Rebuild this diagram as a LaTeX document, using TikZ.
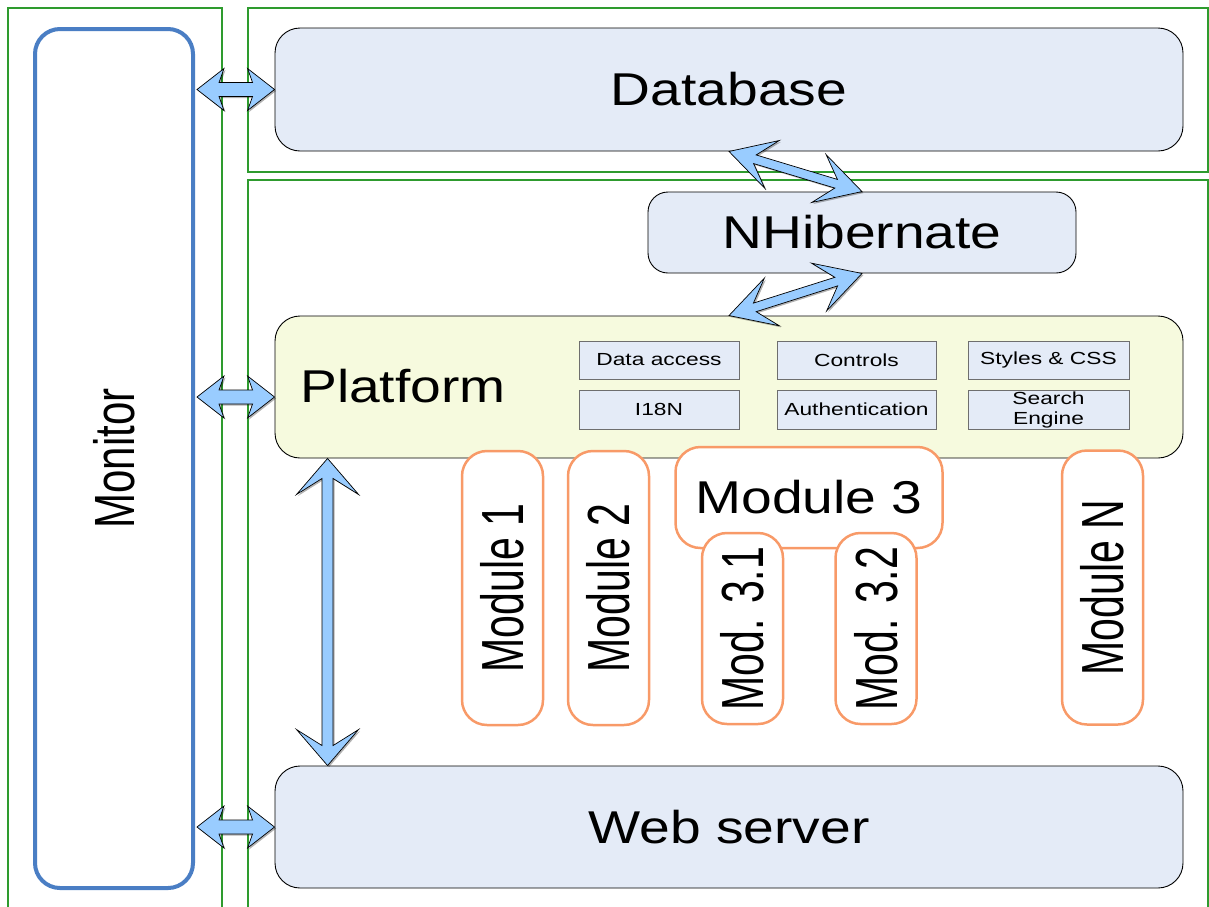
\documentclass[tikz,border=0pt]{standalone}
\usepackage{fontspec}
\setmainfont{Liberation Sans}
\usepackage{graphicx}
\usetikzlibrary{calc}

\definecolor{boxblue}{RGB}{228,235,247}
\definecolor{platfill}{RGB}{246,250,222}
\definecolor{arrowfill}{RGB}{153,204,255}
\definecolor{monblue}{RGB}{74,126,196}
\definecolor{framegreen}{RGB}{46,155,46}
\definecolor{modorange}{RGB}{248,154,104}
\definecolor{smallborder}{RGB}{110,110,110}

% horizontally widened text, and upright (rotated) text
\newcommand\wide[1]{\scalebox{1.2}[1]{#1}}
\newcommand\widesmall[1]{\scalebox{1.3}[1]{#1}}
\newcommand\uptext[2][1.45]{\rotatebox{90}{\scalebox{1}[#1]{#2}}}

% double-headed block arrow between two named coordinates
% #1 start, #2 end, #3 wing setback, #4 neck setback, #5 head half width, #6 shaft half width
\newcommand\barrow[6]{%
  \pgfpointanchor{#1}{center}\pgfgetlastxy{\bax}{\bay}%
  \pgfpointanchor{#2}{center}\pgfgetlastxy{\bbx}{\bby}%
  \pgfmathsetmacro\baang{atan2((\bby)-(\bay),(\bbx)-(\bax))}%
  \pgfmathsetmacro\balen{veclen((\bbx)-(\bax),(\bby)-(\bay))}%
  \def\bapoly{(0,0) -- (#3,#5) -- (#4,#6) -- (\balen-#4,#6) -- (\balen-#3,#5)
    -- (\balen,0) -- (\balen-#3,-#5) -- (\balen-#4,-#6) -- (#4,-#6) -- (#3,-#5) -- cycle}%
  \begin{scope}[shift={($(\bax,\bay)+(1.5pt,-1.5pt)$)}, rotate=\baang, x=1pt, y=1pt]
    \fill[arrowshade] \bapoly;
  \end{scope}
  \begin{scope}[shift={(\bax,\bay)}, rotate=\baang, x=1pt, y=1pt]
    \draw[arrowbody] \bapoly;
  \end{scope}}

\tikzset{
  layer/.style={draw=framegreen, line width=1.2pt},
  bigbox/.style={draw=black, line width=0.9pt, fill=boxblue, rounded corners=25pt,
    inner sep=0pt, font=\fontsize{46}{50}\selectfont},
  platbox/.style={bigbox, fill=platfill},
  bigtext/.style={inner sep=0pt, font=\fontsize{46}{50}\selectfont},
  smallbox/.style={draw=smallborder, line width=0.9pt, fill=boxblue, inner sep=0pt,
    align=center, font=\fontsize{17.5}{20}\selectfont},
  monbox/.style={draw=monblue, line width=4pt, rounded corners=25pt, fill=white,
    inner sep=0pt, font=\fontsize{42}{46}\selectfont},
  modbox/.style={draw=modorange, line width=2.5pt, fill=white, rounded corners=25pt,
    inner sep=0pt, font=\fontsize{41}{45}\selectfont},
  arrowbody/.style={draw=black, line width=0.7pt, fill=arrowfill, line join=miter},
  arrowshade/.style={fill=black, opacity=0.3},
}

\begin{document}
\begin{tikzpicture}[x=1pt, y=-1pt]
\useasboundingbox (0,0) rectangle (1209,906);

% layer frames
\draw[layer] (8,912) |- (222,8) -- (222,912);
\draw[layer] (248,8) rectangle (1208,172);
\draw[layer] (248,912) |- (1208,180) -- (1208,912);

% monitor column
\node[monbox, minimum width=158pt, minimum height=859pt] (mon) at (114,458.5)
  {\uptext[1.35]{Monitor}};

% main tiers
\node[bigbox, minimum width=908pt, minimum height=123pt] (db) at (729,89.5) {\wide{Database}};
\node[bigbox, rounded corners=20pt, minimum width=428pt, minimum height=81pt] (nh) at (862,232.5) {\wide{NHibernate}};
\node[platbox, minimum width=908pt, minimum height=142pt] (plat) at (729,387) {};
\node[bigtext, anchor=west] (plattxt) at (300,386) {\wide{Platform}};
\node[bigbox, minimum width=908pt, minimum height=122pt] (ws) at (729,827) {\wide{Web server}};

% platform services
\node[smallbox, minimum width=160pt, minimum height=38pt] (da) at (659,360) {\widesmall{Data access}};
\node[smallbox, minimum width=160pt, minimum height=39pt] (i18n) at (659,409.5) {\widesmall{I18N}};
\node[smallbox, minimum width=159pt, minimum height=38pt] (ctl) at (856.5,360) {\widesmall{Controls}};
\node[smallbox, minimum width=159pt, minimum height=39pt] (auth) at (856.5,409.5) {\widesmall{Authentication}};
\node[smallbox, minimum width=161pt, minimum height=38pt] (css) at (1048.5,360) {\widesmall{Styles \& CSS}};
\node[smallbox, minimum width=161pt, minimum height=39pt] (se) at (1048.5,409.5) {\widesmall{Search}\\\widesmall{Engine}};

% modules
\node[modbox, minimum width=81pt, minimum height=274pt] (m1) at (502.5,588) {\uptext{Module 1}};
\node[modbox, minimum width=81pt, minimum height=274pt] (m2) at (608.5,588) {\uptext{Module 2}};
\node[modbox, minimum width=267pt, minimum height=101pt, font=\fontsize{46}{50}\selectfont] (m3) at (809,497.5) {\wide{Module 3}};
\node[modbox, minimum width=81pt, minimum height=274pt] (mN) at (1102.5,587.5) {\uptext{Module N}};
\node[modbox, minimum width=81pt, minimum height=191pt] (m31) at (742.5,628.5) {\uptext{Mod. 3.1}};
\node[modbox, minimum width=81pt, minimum height=191pt] (m32) at (876,628.5) {\uptext{Mod. 3.2}};

% arrow end points
\coordinate (monDb) at ([xshift=2pt]mon.east |- db.west);
\coordinate (monPl) at ([xshift=2pt,yshift=-10pt]mon.east |- plat.west);
\coordinate (plMon) at ([yshift=-10pt]plat.west);
\coordinate (monWs) at ([xshift=2pt]mon.east |- ws.west);
\coordinate (dbS) at (db.south);
\coordinate (nhN) at (nh.north);
\coordinate (nhS) at (nh.south);
\coordinate (plN) at (plat.north);
\coordinate (plS) at ([xshift=53pt]plat.south west);
\coordinate (wsN) at ([xshift=53pt]ws.north west);
\coordinate (dbW) at (db.west);
\coordinate (wsW) at (ws.west);

% connectors
\barrow{monDb}{dbW}{27}{22}{21}{7}
\barrow{monPl}{plMon}{27}{22}{21}{7}
\barrow{monWs}{wsW}{27}{22}{21}{7}
\barrow{dbS}{nhN}{45}{27}{25}{4.5}
\barrow{nhS}{plN}{45}{27}{25}{4.5}
\barrow{plS}{wsN}{36}{20}{31}{5.5}
\end{tikzpicture}
\end{document}
